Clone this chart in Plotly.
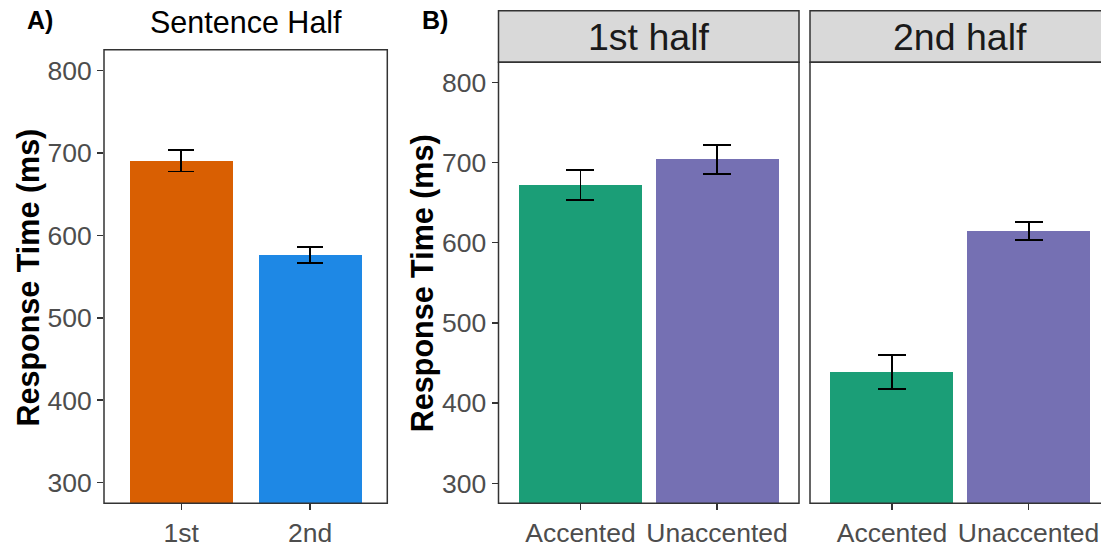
import plotly.graph_objects as go

# Panel A data
half_cats = ["1st", "2nd"]
half_means = [690.3, 576.2]
half_err = [12.9, 10.0]
half_colors = ["#D95F02", "#1E88E5"]

# Panel B data
facet_labels = ["1st half", "2nd half"]
accent_cats = ["Accented", "Unaccented"]
first_means = [671.7, 703.9]
first_err = [18.8, 17.8]
second_means = [439.0, 614.5]
second_err = [21.5, 11.0]
accent_colors = ["#1B9E77", "#7570B3"]

y_ticks = [300, 400, 500, 600, 700, 800]
y_range = [275, 825]

W, H = 1101, 548
FONT = "Liberation Sans, Arial, Helvetica, sans-serif"
def px_x(p): return p / W
def px_y(p): return 1 - p / H

fig = go.Figure()

fig.add_trace(go.Bar(x=half_cats, y=half_means, width=0.8, marker=dict(color=half_colors, line=dict(width=0)),
                     error_y=dict(type="data", array=half_err, color="black", thickness=1.9, width=12.8),
                     xaxis="x", yaxis="y", showlegend=False, hoverinfo="skip"))
fig.add_trace(go.Bar(x=accent_cats, y=first_means, width=0.9, marker=dict(color=accent_colors, line=dict(width=0)),
                     error_y=dict(type="data", array=first_err, color="black", thickness=1.9, width=14),
                     xaxis="x2", yaxis="y2", showlegend=False, hoverinfo="skip"))
fig.add_trace(go.Bar(x=accent_cats, y=second_means, width=0.9, marker=dict(color=accent_colors, line=dict(width=0)),
                     error_y=dict(type="data", array=second_err, color="black", thickness=1.9, width=14),
                     xaxis="x3", yaxis="y3", showlegend=False, hoverinfo="skip"))

tickfont = dict(family=FONT, size=26.5, color="#4D4D4D")
common_x = dict(type="category", ticks="outside", ticklen=6, tickwidth=1.5, tickcolor="#333333",
                showgrid=False, zeroline=False, showline=False, tickfont=tickfont, fixedrange=True)
common_y = dict(range=y_range, tickvals=y_ticks, ticks="outside", ticklen=6, tickwidth=1.5, tickcolor="#333333",
                showgrid=False, zeroline=False, showline=False, tickfont=tickfont, fixedrange=True)

# Panel A geometry (pixels)
A_l, A_r, A_t, A_b = 104, 387.3, 50.7, 511.7
# Panel B geometry (pixels)
B1_l, B1_r = 498.5, 799
B2_l, B2_r = 810, 1110.5
B_t, B_b, S_t = 63.3, 511.7, 11
scale_b = (B1_r - B1_l) / 2.2

fig.update_layout(
    width=W, height=H, margin=dict(l=0, r=0, t=0, b=0),
    paper_bgcolor="white", plot_bgcolor="white", bargap=0,
    xaxis=dict(common_x, domain=[px_x(A_l), px_x(A_r)], range=[-0.6, 1.6], anchor="y"),
    yaxis=dict(common_y, domain=[px_y(A_b), px_y(A_t)], anchor="x"),
    xaxis2=dict(common_x, domain=[px_x(B1_l), px_x(B1_r)], range=[-0.6, 1.6], anchor="y2"),
    yaxis2=dict(common_y, domain=[px_y(B_b), px_y(B_t)], anchor="x2"),
    xaxis3=dict(common_x, domain=[px_x(B2_l), 1.0], range=[-0.6, -0.6 + (W - B2_l) / scale_b], anchor="y3"),
    yaxis3=dict(common_y, domain=[px_y(B_b), px_y(B_t)], anchor="x3", showticklabels=False, ticks=""),
)

shapes = []
border = dict(color="#333333", width=1.5)
shapes.append(dict(type="rect", xref="paper", yref="paper", x0=px_x(A_l), x1=px_x(A_r), y0=px_y(A_b), y1=px_y(A_t),
                   line=border, layer="above"))
for l, r in [(B1_l, B1_r), (B2_l, B2_r)]:
    shapes.append(dict(type="rect", xref="paper", yref="paper", x0=px_x(l), x1=px_x(r), y0=px_y(B_t), y1=px_y(S_t),
                       fillcolor="#D9D9D9", line=border, layer="below"))
    shapes.append(dict(type="rect", xref="paper", yref="paper", x0=px_x(l), x1=px_x(r), y0=px_y(B_b), y1=px_y(B_t),
                       line=border, layer="above"))
fig.update_layout(shapes=shapes)

ann = []
def add_text(text, x, y, size, color="black", xanchor="center", yanchor="middle", angle=0):
    ann.append(dict(text=text, xref="paper", yref="paper", x=px_x(x), y=px_y(y), xanchor=xanchor, yanchor=yanchor,
                    textangle=angle, showarrow=False, font=dict(family=FONT, size=size, color=color)))

add_text("<b>A)</b>", 40, 20, 25)
add_text("<b>B)</b>", 434.5, 20, 25)
add_text("Sentence Half", (A_l + A_r) / 2, 22.5, 30.5)
for lbl, l, r in zip(facet_labels, [B1_l, B2_l], [B1_r, B2_r]):
    add_text(lbl, (l + r) / 2, (S_t + B_t) / 2, 37.5, color="#1A1A1A")
add_text("<b>Response Time (ms)</b>", 28.3, 281.8, 30.5, angle=-90)
add_text("<b>Response Time (ms)</b>", 422.5, 288.4, 30.5, angle=-90)
fig.update_layout(annotations=ann)

# remove the browser's default 8px body margin so the figure fills the window exactly
fig.write_html("out.html", config={"displayModeBar": False, "staticPlot": True},
               post_script="document.body.style.margin='0';document.body.style.overflow='hidden';")
